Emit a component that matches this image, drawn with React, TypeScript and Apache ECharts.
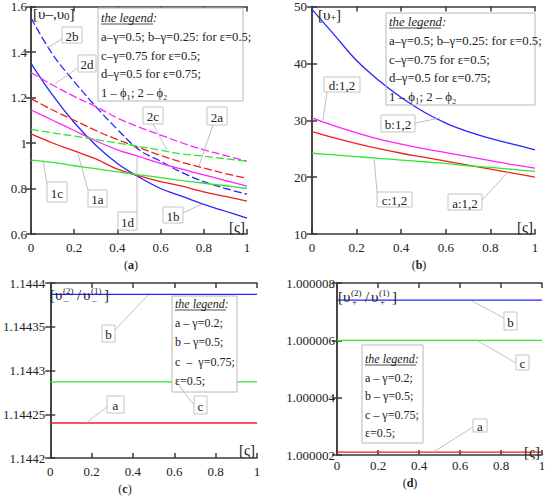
import React, { useEffect, useRef } from "react";
import * as echarts from "echarts";

const FONT = "Liberation Serif, DejaVu Serif, Times New Roman, serif";

// shared abscissa [ς]
const xs = [0, 0.1, 0.2, 0.3, 0.4, 0.5, 0.6, 0.7, 0.8, 0.9, 1];
const xTicks = ["0", "0.2", "0.4", "0.6", "0.8", "1"];

// panel (a): υ-, υ0
const a1a = [1.04, 1.0, 0.965, 0.93, 0.885, 0.855, 0.83, 0.81, 0.785, 0.765, 0.745];
const a2a = [1.195, 1.145, 1.1, 1.055, 1.015, 0.98, 0.945, 0.915, 0.89, 0.865, 0.845];
const a1b = [1.35, 1.21, 1.09, 0.99, 0.91, 0.85, 0.8, 0.765, 0.73, 0.7, 0.67];
const a2b = [1.55, 1.39, 1.27, 1.16, 1.06, 0.97, 0.92, 0.87, 0.83, 0.8, 0.775];
const a1c = [0.925, 0.915, 0.9, 0.887, 0.873, 0.86, 0.848, 0.835, 0.823, 0.812, 0.8];
const a2c = [1.06, 1.045, 1.03, 1.015, 1.0, 0.985, 0.968, 0.952, 0.942, 0.931, 0.92];
const a1d = [1.145, 1.1, 1.055, 1.01, 0.97, 0.94, 0.91, 0.885, 0.86, 0.835, 0.81];
const a2d = [1.31, 1.255, 1.205, 1.16, 1.11, 1.07, 1.035, 1.0, 0.97, 0.945, 0.92];

// panel (b): υ+
const bA = [28.0, 26.9, 25.9, 25.0, 24.2, 23.5, 22.8, 22.1, 21.4, 20.7, 20.0];
const bB = [49.5, 45.0, 40.5, 37.0, 34.0, 31.5, 29.5, 28.0, 26.8, 25.8, 24.8];
const bC = [24.2, 23.9, 23.6, 23.3, 23.0, 22.7, 22.4, 22.0, 21.7, 21.35, 21.0];
const bD = [30.4, 29.0, 27.8, 26.7, 25.8, 25.0, 24.3, 23.6, 22.9, 22.2, 21.6];

// panel (c): υ-(2)/υ-(1)  (constant in ς)
const cEnds = [0, 1];
const cA = [1.14424, 1.14424];
const cB = [1.144387, 1.144387];
const cC = [1.144287, 1.144287];
const cTicks = ["1.1442", "1.14425", "1.1443", "1.14435", "1.1444"];

// panel (d): υ+(2)/υ+(1)
const dA = [1.0000021, 1.0000021];
const dB = [1.0000074, 1.0000074];
const dC = [1.000006, 1.000006];
const dTicks = ["1.000002", "1.000004", "1.000006", "1.000008"];

const BLUE = "#2626ff";
const RED = "#f01e1e";
const MAGENTA = "#ff22ff";
const GREEN = "#2ee82e";
const AXIS = "#3a3a3a";

const grids = [
  { left: 31, top: 3, width: 216, height: 231 },
  { left: 312, top: 4, width: 223, height: 230 },
  { left: 48, top: 283, width: 209, height: 175 },
  { left: 337, top: 283, width: 205, height: 172 },
];

const xMargins = [7, 7, 7, 4];

const yRanges = [
  { min: 0.6, max: 1.6, interval: 0.2, margin: 4, fmt: (v: number) => String(parseFloat(v.toFixed(2))) },
  { min: 10, max: 50, interval: 10, margin: 5, fmt: (v: number) => String(Math.round(v)) },
  {
    min: 1.1442, max: 1.1444, interval: 0.00005, margin: 5,
    fmt: (v: number) => cTicks[Math.round((v - 1.1442) / 0.00005)] ?? "",
  },
  {
    min: 1.000002, max: 1.000008, interval: 0.000002, margin: 2,
    fmt: (v: number) => dTicks[Math.round((v - 1.000002) / 0.000002)] ?? "",
  },
];

function pts(x: number[], y: number[]) {
  return x.map((xv, i) => [xv, y[i]]);
}

function line(name: string, p: number, x: number[], y: number[], color: string, dashed = false) {
  return {
    type: "line",
    name,
    xAxisIndex: 2 * p,
    yAxisIndex: 2 * p,
    data: pts(x, y),
    showSymbol: false,
    smooth: 0.4,
    z: 5,
    lineStyle: { color, width: 1.3, type: dashed ? [8, 3] : "solid" },
    silent: true,
  };
}

const textBase = { fill: "#222", fontFamily: FONT };

function labelBox(text: string, x: number, y: number, w: number, h: number, lx1: number, ly1: number, lx2: number, ly2: number) {
  return [
    { type: "line", z: 40, silent: true, shape: { x1: lx1, y1: ly1, x2: lx2, y2: ly2 }, style: { stroke: "#b0b0b0", lineWidth: 0.8 } },
    { type: "rect", z: 41, silent: true, shape: { x, y, width: w, height: h }, style: { fill: "#fff", stroke: "#c4c4c4", lineWidth: 1 } },
    {
      type: "text", z: 42, silent: true, x: x + w / 2, y: y + h / 2 + 1,
      style: { ...textBase, text, fontSize: 13, textAlign: "center", textVerticalAlign: "middle" },
    },
  ];
}

function legendBox(lines: string[], x: number, y: number, w: number, h: number, tx: number, ys: number[], fill: string, ulw: number, size: number) {
  const els: any[] = [
    { type: "rect", z: 30, silent: true, shape: { x, y, width: w, height: h }, style: { fill, stroke: "#b8b8b8", lineWidth: 1 } },
  ];
  lines.forEach((t, i) => {
    els.push({
      type: "text", z: 31, silent: true, x: tx, y: ys[i],
      style: {
        ...textBase, text: t, fontSize: size, fontStyle: i === 0 ? "italic" : "normal",
        textAlign: "left", textVerticalAlign: "middle",
      },
    });
  });
  els.push({ type: "line", z: 31, silent: true, shape: { x1: tx, y1: ys[0] + 6, x2: tx + ulw, y2: ys[0] + 6 }, style: { stroke: "#222", lineWidth: 0.8 } });
  return els;
}

function plainText(text: string, x: number, y: number, size: number, align = "left", extra: any = {}) {
  return {
    type: "text", z: 35, silent: true, x, y,
    style: { ...textBase, text, fontSize: size, textAlign: align, textVerticalAlign: "middle", ...extra },
  };
}

function caption(letter: string, cx: number, cy: number) {
  return {
    type: "text", z: 35, silent: true, x: cx, y: cy,
    style: {
      ...textBase, text: `{n|(}{b|${letter}}{n|)}`, textAlign: "center", textVerticalAlign: "middle",
      rich: {
        n: { fontFamily: FONT, fontSize: 12, fill: "#222" },
        b: { fontFamily: FONT, fontSize: 12, fontWeight: "bold", fill: "#222" },
      },
    },
  };
}

const legendAB = [
  "the legend:",
  "a–γ=0.5; b–γ=0.25: for ε=0.5;",
  "c–γ=0.75 for ε=0.5;",
  "d–γ=0.5 for ε=0.75;",
  "1 – ϕ₁; 2 – ϕ₂",
];
const legendC = ["the legend:", "a – γ=0.2;", "b – γ=0.5;", "c  –  γ=0.75;", "ε=0.5;"];
const legendD = ["the legend:", "a – γ=0.2;", "b – γ=0.5;", "c – γ=0.75;", "ε=0.5;"];

function ratioTitle(x: number, y: number, sign: string) {
  const els: any[] = [];
  const big = 15;
  els.push(plainText("[υ", x, y, big));
  els.push(plainText("(2)", x + 13, y - 4, 9));
  els.push(plainText(sign, x + 14, y + 5, 9));
  els.push(plainText("/", x + 27, y, big));
  els.push(plainText("υ", x + 33, y, big));
  els.push(plainText("(1)", x + 41, y - 4, 9));
  els.push(plainText(sign, x + 42, y + 5, 9));
  els.push(plainText("]", x + 54, y, big));
  return els;
}

export default function App() {
  const ref = useRef<HTMLDivElement>(null);
  useEffect(() => {
    document.body.style.margin = "0";
    if (!ref.current) return;
    const chart = echarts.init(ref.current, undefined, { renderer: "svg" });

    const xAxis: any[] = [];
    const yAxis: any[] = [];
    grids.forEach((_, p) => {
      const axLine = { show: true, lineStyle: { color: AXIS, width: 1.5 } };
      const tick = { show: true, inside: true, length: 5, lineStyle: { color: AXIS, width: 1.5 } };
      xAxis.push({
        type: "value", gridIndex: p, position: "bottom", min: 0, max: 1, interval: 0.2,
        axisLine: axLine, axisTick: tick, splitLine: { show: false },
        axisLabel: {
          margin: xMargins[p], color: "#222", fontFamily: FONT, fontSize: 13,
          formatter: (v: number) => xTicks[Math.round(v / 0.2)] ?? "",
        },
      });
      xAxis.push({
        type: "value", gridIndex: p, position: "top", min: 0, max: 1, interval: 0.2,
        axisLine: axLine, axisTick: tick, splitLine: { show: false }, axisLabel: { show: false },
      });
      const r = yRanges[p];
      yAxis.push({
        type: "value", gridIndex: p, position: "left", min: r.min, max: r.max, interval: r.interval,
        axisLine: axLine, axisTick: tick, splitLine: { show: false },
        axisLabel: { margin: r.margin, color: "#222", fontFamily: FONT, fontSize: 13, formatter: r.fmt },
      });
      yAxis.push({
        type: "value", gridIndex: p, position: "right", min: r.min, max: r.max, interval: r.interval,
        axisLine: axLine, axisTick: tick, splitLine: { show: false }, axisLabel: { show: false },
      });
    });

    const series = [
      line("2b", 0, xs, a2b, BLUE, true),
      line("1b", 0, xs, a1b, BLUE),
      line("2d", 0, xs, a2d, MAGENTA, true),
      line("1d", 0, xs, a1d, MAGENTA),
      line("2a", 0, xs, a2a, RED, true),
      line("1a", 0, xs, a1a, RED),
      line("2c", 0, xs, a2c, GREEN, true),
      line("1c", 0, xs, a1c, GREEN),
      line("b:1,2", 1, xs, bB, BLUE),
      line("d:1,2", 1, xs, bD, MAGENTA),
      line("a:1,2", 1, xs, bA, RED),
      line("c:1,2", 1, xs, bC, GREEN),
      line("b", 2, cEnds, cB, BLUE),
      line("c", 2, cEnds, cC, GREEN),
      line("a", 2, cEnds, cA, RED),
      line("b", 3, cEnds, dB, BLUE),
      line("c", 3, cEnds, dC, GREEN),
      line("a", 3, cEnds, dA, RED),
    ];

    const graphic: any[] = [
      // panel (a)
      ...legendBox(legendAB, 98, 8, 145, 93, 101, [18, 37, 55.5, 74, 92.5], "#fff", 52, 12.6),
      ...labelBox("2b", 62, 27, 20, 16, 62, 39, 47, 48),
      ...labelBox("2d", 78, 55, 18, 17, 79, 67, 55, 84),
      ...labelBox("2c", 143, 107, 20, 17, 153, 124, 167, 150),
      ...labelBox("2a", 207, 107, 20, 18, 213, 125, 199, 166),
      ...labelBox("1c", 47, 182, 20, 20, 47, 185, 43, 160),
      ...labelBox("1a", 88, 190, 19, 17, 88, 190, 78, 154),
      ...labelBox("1d", 118, 212, 19, 18, 137, 213, 137, 157),
      ...labelBox("1b", 163, 207, 20, 16, 183, 213, 202, 204),
      {
        type: "text", z: 35, silent: true, x: 33, y: 14,
        style: {
          ...textBase, text: "{n|[υ–,υ}{s|0}{n|]}", textAlign: "left", textVerticalAlign: "middle",
          rich: {
            n: { fontFamily: FONT, fontSize: 15, fill: "#222" },
            s: { fontFamily: FONT, fontSize: 11, fill: "#222", verticalAlign: "bottom", lineHeight: 14 },
          },
        },
      },
      plainText("[ς]", 245, 227, 15, "right"),
      caption("a", 131, 265),

      // panel (b)
      ...legendBox(legendAB, 386, 13, 149, 92, 389, [22, 41, 59.5, 78, 97], "rgba(255,255,255,0)", 52, 12.8),
      ...labelBox("d:1,2", 324, 77, 36, 15, 327, 92, 323, 120),
      ...labelBox("b:1,2", 381, 115, 34, 17, 415, 123, 440, 118),
      ...labelBox("c:1,2", 377, 192, 35, 15, 377, 192, 374, 157),
      ...labelBox("a:1,2", 448, 194, 34, 16, 482, 200, 508, 172),
      {
        type: "text", z: 35, silent: true, x: 318, y: 15,
        style: {
          ...textBase, text: "{n|[υ}{s|+}{n|]}", textAlign: "left", textVerticalAlign: "middle",
          rich: {
            n: { fontFamily: FONT, fontSize: 15, fill: "#222" },
            s: { fontFamily: FONT, fontSize: 10, fill: "#222", verticalAlign: "bottom", lineHeight: 14 },
          },
        },
      },
      plainText("[ς]", 533, 227, 15, "right"),
      caption("b", 419, 265),

      // panel (c)
      ...legendBox(legendC, 172, 296, 65, 96, 175, [304, 323, 342, 362, 381], "#fff", 51, 12),
      ...labelBox("b", 102, 325, 13, 17, 115, 330, 148, 295),
      ...labelBox("a", 107, 396, 17, 17, 107, 407, 86, 423),
      ...labelBox("c", 194, 396, 13, 18, 194, 405, 177, 383),
      ...ratioTitle(50, 295, "–"),
      plainText("[ς]", 255, 450, 15, "right"),
      caption("c", 125, 489),

      // panel (d)
      ...legendBox(legendD, 362, 345, 61, 98, 365, [359, 378, 396, 415, 433], "#fff", 51, 12),
      ...labelBox("b", 504, 312, 13, 18, 504, 318, 472, 301),
      ...labelBox("c", 516, 355, 13, 15, 516, 363, 478, 341),
      ...labelBox("a", 473, 419, 14, 13, 473, 427, 432, 453),
      ...ratioTitle(338, 297, "+"),
      plainText("[ς]", 540, 452, 15, "right"),
      caption("d", 410, 483),
    ];

    chart.setOption({
      animation: false,
      backgroundColor: "#fff",
      textStyle: { fontFamily: FONT },
      grid: grids.map((g) => ({ ...g, containLabel: false })),
      xAxis,
      yAxis,
      series,
      graphic: { elements: graphic },
    });
    return () => chart.dispose();
  }, []);
  return <div ref={ref} style={{ width: 550, height: 499 }} />;
}
